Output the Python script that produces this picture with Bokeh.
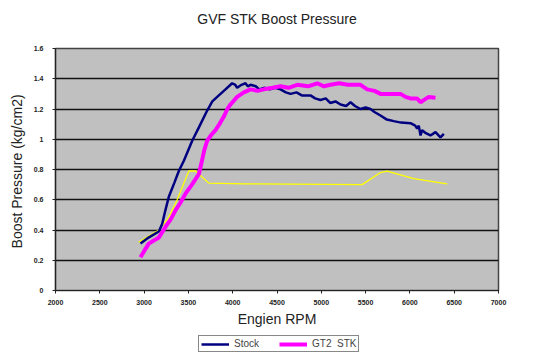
from bokeh.plotting import figure
from bokeh.layouts import column
from bokeh.models import Range1d, FixedTicker, Legend, LegendItem, Title
from bokeh.embed import file_html
from bokeh.resources import INLINE

# ---- data ----
stock_rpm = [2959, 3050, 3166, 3204, 3240, 3279, 3340, 3392, 3450, 3543, 3620, 3712, 3770, 3825,
             3900, 3994, 4030, 4050, 4100, 4144, 4170, 4201, 4260, 4300, 4351, 4420, 4480, 4540,
             4600, 4652, 4720, 4780, 4878, 4930, 4991, 5050, 5100, 5160, 5217, 5280, 5330, 5380,
             5442, 5500, 5555, 5600, 5668, 5740, 5818, 5900, 6007, 6060, 6082, 6100, 6120, 6138,
             6180, 6232, 6289, 6345, 6383]
stock_bp = [0.31, 0.35, 0.39, 0.44, 0.53, 0.62, 0.71, 0.79, 0.86, 0.99, 1.08, 1.19, 1.25, 1.28,
            1.32, 1.37, 1.36, 1.34, 1.36, 1.37, 1.35, 1.36, 1.35, 1.33, 1.34, 1.33, 1.34, 1.33,
            1.31, 1.30, 1.31, 1.29, 1.29, 1.27, 1.26, 1.27, 1.24, 1.25, 1.23, 1.22, 1.245, 1.22,
            1.20, 1.21, 1.20, 1.18, 1.157, 1.13, 1.12, 1.11, 1.106, 1.09, 1.07, 1.09, 1.025, 1.06,
            1.04, 1.025, 1.047, 1.013, 1.036]

gt2_rpm = [2959, 3000, 3053, 3110, 3166, 3241, 3300, 3354, 3410, 3467, 3540, 3618, 3650, 3680,
           3712, 3760, 3806, 3850, 3900, 3940, 3975, 4050, 4126, 4201, 4280, 4351, 4450, 4540,
           4630, 4728, 4850, 4954, 5030, 5104, 5200, 5300, 5442, 5518, 5600, 5668, 5780, 5894,
           5950, 6007, 6080, 6120, 6160, 6213, 6289]
gt2_bp = [0.22, 0.26, 0.31, 0.33, 0.35, 0.42, 0.47, 0.53, 0.58, 0.64, 0.70, 0.77, 0.85, 0.93,
          0.99, 1.03, 1.06, 1.10, 1.15, 1.20, 1.23, 1.28, 1.31, 1.33, 1.32, 1.33, 1.34, 1.35,
          1.34, 1.36, 1.35, 1.37, 1.35, 1.36, 1.37, 1.36, 1.36, 1.33, 1.32, 1.30, 1.30, 1.30,
          1.28, 1.27, 1.27, 1.245, 1.26, 1.28, 1.275]

third_rpm = [2940, 3166, 3279, 3373, 3505, 3580, 3730, 4144, 5461, 5668, 5743, 6044, 6421]
third_bp = [0.32, 0.40, 0.485, 0.60, 0.79, 0.79, 0.71, 0.705, 0.70, 0.78, 0.79, 0.74, 0.705]

series_names = ["Stock", "GT2  STK"]
series_colors = ["#000080", "#FF00FF"]

x_ticks = [2000, 2500, 3000, 3500, 4000, 4500, 5000, 5500, 6000, 6500, 7000]
x_tick_labels = ["2000", "2500", "3000", "3500", "4000", "4500", "5000", "5500", "6000", "6500", "7000"]
y_ticks = [0, 0.2, 0.4, 0.6, 0.8, 1.0, 1.2, 1.4, 1.6]
y_tick_labels = ["0", "0.2", "0.4", "0.6", "0.8", "1", "1.2", "1.4", "1.6"]

FONT = "Liberation Sans"

p = figure(frame_width=443, frame_height=242, output_backend="svg", toolbar_location=None,
           x_range=Range1d(2000, 7000), y_range=Range1d(0, 1.6),
           min_border_left=55, min_border_right=47, min_border_top=48, min_border_bottom=45)
p.title = None

# spacer (empty title) between the frame and the real title
spacer = Title(text=" ", text_font_size="10px", standoff=8)
p.add_layout(spacer, "above")
main_title = Title(text="GVF STK Boost Pressure", align="center", text_font=FONT,
                   text_font_size="14px", text_font_style="normal", text_color="#222222",
                   standoff=2)
p.add_layout(main_title, "above")

p.background_fill_color = "#C0C0C0"
p.border_fill_color = "white"
p.outline_line_color = "#444444"
p.outline_line_width = 1.5

p.xgrid.grid_line_color = None
p.ygrid.grid_line_color = "#111111"
p.ygrid.grid_line_width = 1.5

p.xaxis.ticker = FixedTicker(ticks=x_ticks)
p.yaxis.ticker = FixedTicker(ticks=y_ticks)
p.xaxis.major_label_overrides = {t: l for t, l in zip(x_ticks, x_tick_labels)}
p.yaxis.major_label_overrides = {t: l for t, l in zip(y_ticks, y_tick_labels)}

for ax in (p.xaxis, p.yaxis):
    ax.axis_line_color = "#222222"
    ax.axis_line_width = 1.2
    ax.major_tick_line_color = "#222222"
    ax.major_tick_in = 0
    ax.major_tick_out = 3
    ax.minor_tick_line_color = None
    ax.major_label_text_font = FONT
    ax.major_label_text_font_size = "7px"
    ax.major_label_text_font_style = "bold"
    ax.major_label_text_color = "#222222"
    ax.axis_label_text_font = FONT
    ax.axis_label_text_font_size = "14px"
    ax.axis_label_text_font_style = "normal"
    ax.axis_label_text_color = "#222222"

p.xaxis.axis_label = "Engien RPM"
p.yaxis.axis_label = "Boost Pressure  (kg/cm2)"
p.xaxis.major_label_standoff = 6
p.yaxis.major_label_standoff = 9
p.xaxis.axis_label_standoff = 3
p.yaxis.axis_label_standoff = 6

p.line(third_rpm, third_bp, line_color="#FFFF00", line_width=1.3)
p.line(stock_rpm, stock_bp, line_color=series_colors[0], line_width=2.5)
p.line(gt2_rpm, gt2_bp, line_color=series_colors[1], line_width=4)

# ---- legend strip underneath (separate small figure) ----
lg = figure(width=545, height=24, output_backend="svg", toolbar_location=None,
            x_range=Range1d(0, 1), y_range=Range1d(0, 1),
            x_axis_location=None, y_axis_location=None,
            min_border_left=0, min_border_right=0, min_border_top=0, min_border_bottom=0)
lg.title = None
lg.outline_line_color = None
lg.background_fill_color = "white"
lg.border_fill_color = "white"
lg.xgrid.grid_line_color = None
lg.ygrid.grid_line_color = None
# legend-only renderers, kept outside the visible range
lg_stock = lg.line(x=[-3, -2], y=[-3, -2], line_color=series_colors[0], line_width=2.5)
lg_gt2 = lg.line(x=[-3, -2], y=[-3, -2], line_color=series_colors[1], line_width=4)

legend = Legend(items=[LegendItem(label=series_names[0], renderers=[lg_stock]),
                       LegendItem(label=series_names[1], renderers=[lg_gt2])],
                orientation="horizontal", location=(143, 7),
                label_text_font=FONT, label_text_font_size="10px",
                label_height=10, glyph_height=10, glyph_width=28,
                label_standoff=5, spacing=20, padding=2, margin=0,
                border_line_color="#111111", border_line_width=1.5,
                background_fill_color="white", background_fill_alpha=1.0)
lg.add_layout(legend, "center")

layout = column(p, lg, spacing=0)
open("out.html", "w").write(file_html(layout, INLINE))
